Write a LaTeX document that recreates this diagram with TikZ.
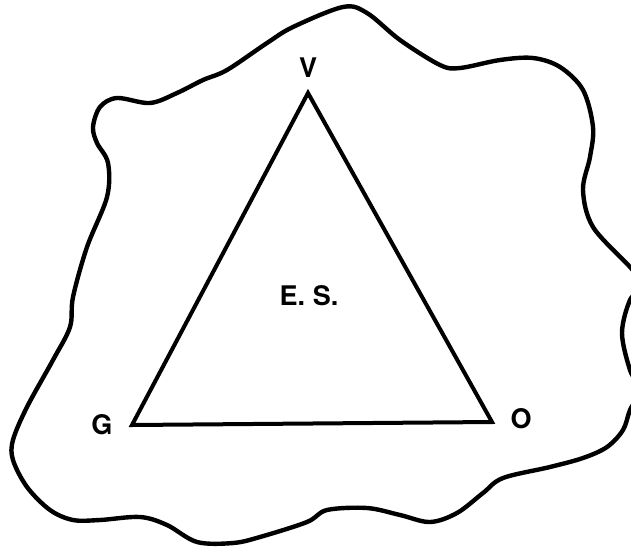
\documentclass[tikz,border=0pt]{standalone}
\usepackage{fontspec}
\setmainfont{TeX Gyre Heros}
\begin{document}
\begin{tikzpicture}[x=1pt,y=-1pt,
  outline/.style={line width=4.4pt,line join=round,line cap=round},
  tri/.style={line width=4pt,line join=miter},
  lbl/.style={font=\fontsize{27}{30}\selectfont\bfseries,inner sep=0pt}]
\useasboundingbox (0,0) rectangle (631,546);
\clip (0,0) rectangle (631,546);
\draw[outline] plot[smooth cycle,tension=0.55] coordinates {
 (343,7) (367,13) (400,40) (440,65) (460,68) (500,60) (533,58) (560,67)
 (583,90) (593,127) (590,157) (583,190) (593,227) (630,267) (643,285)
 (630,300) (622,333) (630,370) (640,390) (630,410) (623,430) (607,447)
 (583,458) (550,467) (503,478) (483,493) (457,513) (430,522) (400,515)
 (367,508) (327,510) (307,522) (260,537) (233,543) (197,542) (167,525)
 (140,517) (100,520) (73,520) (50,510) (27,487) (13,460) (13,440)
 (27,407) (53,360) (70,327) (73,297) (87,247) (107,197) (108,163)
 (97,143) (93,127) (100,107) (117,98) (150,103) (177,93) (203,80)
 (227,70) (267,43) (293,27)};
\coordinate (cv) at (308,93);
\coordinate (cg) at (132,425);
\coordinate (co) at (492,422);
\draw[tri] (cv) -- (co) -- (cg) -- cycle;
\node[lbl] (v) at (308,68) {V};
\node[lbl] (g) at (102,425) {G};
\node[lbl] (o) at (521,419) {O};
\node[lbl] (es) at (309,296) {E. S.};
\end{tikzpicture}
\end{document}
